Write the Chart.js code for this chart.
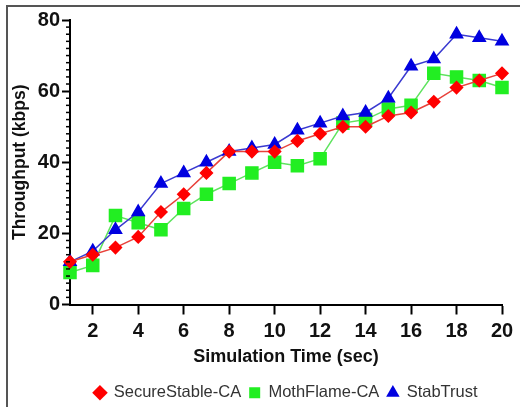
<!DOCTYPE html>
<html>
<head>
<meta charset="utf-8">
<script src="https://cdn.jsdelivr.net/npm/chart.js@4.4.1/dist/chart.umd.min.js"></script>
<style>
  body { margin: 0; background: #fff; overflow: hidden; }
  #wrap { position: relative; width: 520px; height: 411px; }
  #frame {
    position: absolute; left: 6px; top: 5px; right: -10px; bottom: -10px;
    border-left: 2px solid #555; border-top: 2px solid #555;
    pointer-events: none;
  }
</style>
</head>
<body>
<div id="wrap">
  <canvas id="chart"></canvas>
  <div id="frame"></div>
</div>
<script>
// simulation time (sec)
const times = [1, 2, 3, 4, 5, 6, 7, 8, 9, 10, 11, 12, 13, 14, 15, 16, 17, 18, 19, 20];

// throughput (kbps)
const secureStable = [12, 14, 16, 19, 26, 31, 37, 43, 43, 43, 46, 48, 50, 50, 53, 54, 57, 61, 63, 65];
const mothFlame    = [9, 11, 25, 23, 21, 27, 31, 34, 37, 40, 39, 41, 51, 52, 55, 56, 65, 64, 63, 61];
const stabTrust    = [12, 15, 21, 26, 34, 37, 40, 43, 44, 45, 49, 51, 53, 54, 58, 67, 69, 76, 75, 74];

const yTicks = [0, 20, 40, 60, 80];

const FONT = "'Liberation Sans', Arial, sans-serif";

function pts(vals) {
  return times.map((t, i) => ({ x: t, y: vals[i] }));
}

// small ticks every 2 units on the y axis
const minorTicks = {
  id: 'minorTicks',
  afterDraw(chart) {
    const y = chart.scales.y;
    const ctx = chart.ctx;
    ctx.save();
    ctx.strokeStyle = '#000';
    ctx.lineWidth = 1.5;
    for (let v = 0; v <= 80; v += 2) {
      if (v % 20 === 0) continue;
      const py = y.getPixelForValue(v);
      ctx.beginPath();
      ctx.moveTo(y.right - 4, py);
      ctx.lineTo(y.right, py);
      ctx.stroke();
    }
    ctx.restore();
  }
};

new Chart(document.getElementById('chart'), {
  type: 'line',
  data: {
    datasets: [
      {
        label: 'SecureStable-CA',
        data: pts(secureStable),
        borderColor: '#e8413a',
        backgroundColor: '#ff0000',
        pointBorderColor: '#ff0000',
        pointStyle: 'rectRot',
        pointRadius: 6,
        borderWidth: 1.5,
        order: 1
      },
      {
        label: 'MothFlame-CA',
        data: pts(mothFlame),
        borderColor: '#5ee35e',
        backgroundColor: '#22ee22',
        pointBorderColor: '#22ee22',
        pointStyle: 'rect',
        pointRadius: 8.5,
        borderWidth: 1.5,
        order: 3
      },
      {
        label: 'StabTrust',
        data: pts(stabTrust),
        borderColor: '#3a3ad0',
        backgroundColor: '#0000e0',
        pointBorderColor: '#0000e0',
        pointStyle: 'triangle',
        pointRadius: 7,
        borderWidth: 1.5,
        order: 2
      }
    ]
  },
  options: {
    responsive: true,
    maintainAspectRatio: false,
    animation: false,
    clip: false,
    layout: { padding: { left: 0, right: 18, top: 20, bottom: 0 } },
    scales: {
      x: {
        type: 'linear',
        min: 1,
        max: 20,
        afterBuildTicks(scale) {
          scale.ticks = times.filter(t => t % 2 === 0).map(t => ({ value: t }));
        },
        afterFit(scale) { scale.height = 72; },
        grid: { drawOnChartArea: false, tickLength: 10, tickWidth: 2, tickColor: '#000' },
        border: { color: '#000', width: 2 },
        ticks: { color: '#111', padding: 5, font: { family: FONT, size: 20, weight: 'bold' } },
        title: {
          display: true,
          text: 'Simulation Time (sec)',
          color: '#111',
          padding: { top: 0, bottom: 9 },
          font: { family: FONT, size: 18, weight: 'bold' }
        }
      },
      y: {
        min: 0,
        max: 80,
        afterBuildTicks(scale) {
          scale.ticks = yTicks.map(v => ({ value: v }));
        },
        afterFit(scale) { scale.width = 70; },
        grid: { drawOnChartArea: false, tickLength: 8, tickWidth: 2, tickColor: '#000' },
        border: { color: '#000', width: 2 },
        ticks: { color: '#111', padding: 2, font: { family: FONT, size: 20, weight: 'bold' } },
        title: {
          display: true,
          text: 'Throughput (kbps)',
          color: '#111',
          padding: { top: 10, bottom: 0 },
          font: { family: FONT, size: 17.5, weight: 'bold' }
        }
      }
    },
    plugins: {
      legend: {
        position: 'bottom',
        fullSize: false,
        labels: {
          usePointStyle: true,
          boxWidth: 11,
          boxHeight: 11,
          padding: 8,
          color: '#333',
          font: { family: FONT, size: 16.5 },
          generateLabels(chart) {
            return chart.data.datasets.map((ds, i) => ({
              text: ds.label,
              fillStyle: ds.backgroundColor,
              strokeStyle: ds.backgroundColor,
              pointStyle: ds.pointStyle,
              lineWidth: 0,
              fontColor: '#333',
              datasetIndex: i
            }));
          }
        }
      },
      tooltip: { enabled: false }
    }
  },
  plugins: [minorTicks]
});
</script>
</body>
</html>
